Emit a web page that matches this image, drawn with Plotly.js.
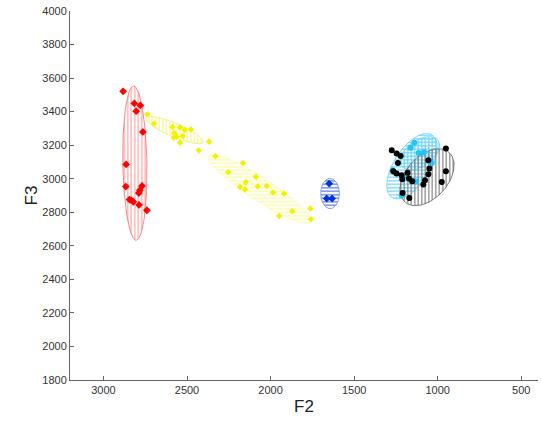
<!DOCTYPE html>
<html>
<head>
<meta charset="utf-8">
<script src="https://cdn.plot.ly/plotly-3.0.1.min.js"></script>
<style>html,body{margin:0;padding:0;background:#fff;}#chart{width:541px;height:421px;}</style>
</head>
<body>
<div id="chart"></div>
<script>
// ---- data: F2 / F3 measurements per group ----
var redF2 = [2882, 2815, 2779, 2804, 2764, 2864, 2866, 2769, 2782, 2788, 2844, 2834, 2821, 2787, 2740];
var redF3 = [3521, 3449, 3437, 3403, 3279, 3085, 2953, 2957, 2931, 2915, 2876, 2872, 2862, 2844, 2812];

var yellowAF2 = [2737, 2697, 2587, 2541, 2513, 2477, 2577, 2561, 2525, 2579, 2541, 2368, 2430];
var yellowAF3 = [3385, 3330, 3309, 3306, 3290, 3294, 3273, 3250, 3254, 3244, 3214, 3220, 3168];

var yellowBF2 = [2330, 2165, 2253, 2087, 2148, 2183, 2077, 2023, 2153, 1985, 1919, 1870, 1948, 1762, 1758];
var yellowBF3 = [3134, 3094, 3039, 3011, 2979, 2951, 2955, 2957, 2936, 2918, 2912, 2806, 2778, 2822, 2758];

var blueF2 = [1649, 1664, 1632];
var blueF3 = [2971, 2882, 2882];

var cyanF2 = [1140, 1162, 1114, 1082, 1036, 1269, 1256, 1186, 1216, 1156, 1130];
var cyanF3 = [3214, 3184, 3154, 3158, 3094, 3051, 3035, 3019, 2901, 2985, 2985];

var blackF2 = [1275, 1246, 1222, 1238, 1266, 1246, 1216, 1212, 1180, 1172, 1152, 1056, 1050, 1056, 1076, 1086, 951, 951, 976, 1210, 1170];
var blackF3 = [3170, 3150, 3136, 3094, 3045, 3031, 3021, 2997, 3035, 3001, 2985, 3110, 3061, 3027, 2991, 2965, 3180, 3045, 2981, 2915, 2885];

// ---- ellipse parameters: centre F2, centre F3, semi-axis a, semi-axis b, angle (deg) ----
var ellipseNames   = ['red', 'yellowA', 'yellowB', 'blue', 'cyanA', 'cyanB', 'black'];
var ellipseCF2     = [2812, 2574, 2066, 1644, 1154, 1106, 1064];
var ellipseCF3     = [3093, 3290, 2940, 2912, 3075, 3152, 3009];
var ellipseA       = [460, 186, 364, 90, 222, 132, 198];
var ellipseB       = [72, 41, 68, 56, 108, 78, 126];
var ellipseAngle   = [89, 22.8, 32.9, 90, 123, 145, 132];
var ellipseHatch   = ['|', '|', '-', '-', '-', '|', '|'];
var ellipseLine    = ['rgba(255,120,120,0.9)', 'rgba(240,240,120,0.9)', 'rgba(250,250,150,0.6)', 'rgba(120,150,240,0.9)', 'rgba(90,210,250,0.8)', 'rgba(90,210,250,0.8)', 'rgba(110,110,110,0.9)'];
var ellipseHatchCol= ['rgb(255,150,150)', 'rgb(245,245,120)', 'rgb(250,250,140)', 'rgb(60,90,230)', 'rgb(80,205,250)', 'rgb(80,205,250)', 'rgb(110,110,110)'];

function ellipsePath(cx, cy, a, b, angDeg) {
  var t = angDeg * Math.PI / 180, xs = [], ys = [];
  for (var i = 0; i <= 120; i++) {
    var s = 2 * Math.PI * i / 120;
    var u = a * Math.cos(s), v = b * Math.sin(s);
    xs.push(cx + u * Math.cos(t) - v * Math.sin(t));
    ys.push(cy + u * Math.sin(t) + v * Math.cos(t));
  }
  return {x: xs, y: ys};
}

var traces = [];
for (var k = 0; k < ellipseNames.length; k++) {
  var p = ellipsePath(ellipseCF2[k], ellipseCF3[k], ellipseA[k], ellipseB[k], ellipseAngle[k]);
  traces.push({
    type: 'scatter', mode: 'lines', x: p.x, y: p.y,
    fill: 'toself', fillcolor: 'rgba(0,0,0,0)',
    fillpattern: {shape: ellipseHatch[k], fgcolor: ellipseHatchCol[k], bgcolor: 'rgba(0,0,0,0)', size: 3.5, solidity: 0.3},
    line: {color: ellipseLine[k], width: 1},
    hoverinfo: 'skip', showlegend: false
  });
}

function pts(x, y, color, symbol, size) {
  return {type: 'scatter', mode: 'markers', x: x, y: y, showlegend: false,
          marker: {color: color, symbol: symbol, size: size, line: {width: 0}}};
}
traces.push(pts(redF2, redF3, '#ff0000', 'diamond', 6));
traces.push(pts(yellowAF2, yellowAF3, '#f2f200', 'diamond', 5));
traces.push(pts(yellowBF2, yellowBF3, '#f2f200', 'diamond', 5));
traces.push(pts(blueF2, blueF3, '#0033dd', 'diamond', 6));
traces.push(pts(cyanF2, cyanF3, '#22c4f5', 'circle', 6));
traces.push(pts(blackF2, blackF3, '#000000', 'circle', 6));

var layout = {
  width: 541, height: 421,
  margin: {l: 70, r: 3, t: 11, b: 41},
  paper_bgcolor: '#fff', plot_bgcolor: '#fff',
  font: {family: 'Liberation Sans, Arial, sans-serif', size: 11, color: '#333'},
  xaxis: {
    range: [3200, 400], tickvals: [3000, 2500, 2000, 1500, 1000, 500],
    showgrid: false, zeroline: false, showline: true, linecolor: '#666', linewidth: 1,
    ticks: 'inside', ticklen: 4, tickcolor: '#666',
    title: {text: 'F2', font: {size: 17, color: '#222'}, standoff: 4}
  },
  yaxis: {
    range: [1800, 4000], dtick: 200, tick0: 1800,
    showgrid: false, zeroline: false, showline: true, linecolor: '#666', linewidth: 1,
    ticks: 'inside', ticklen: 4, tickcolor: '#666',
    title: {text: 'F3', font: {size: 17, color: '#222'}, standoff: 0}
  },
  showlegend: false
};

Plotly.newPlot('chart', traces, layout, {displayModeBar: false, staticPlot: true});
</script>
</body>
</html>
